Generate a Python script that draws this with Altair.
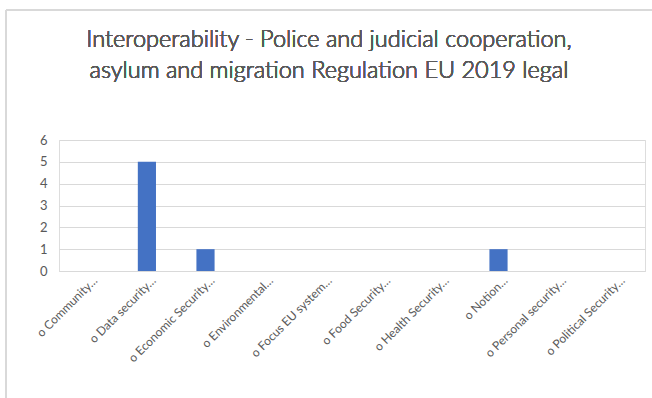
import altair as alt
import pandas as pd

categories = ["o Community…", "o Data security…", "o Economic Security…", "o Environmental…",
              "o Focus EU system…", "o Food Security…", "o Health Security…", "o Notion…",
              "o Personal security…", "o Political Security…"]
values = [0, 5, 1, 0, 0, 0, 0, 1, 0, 0]
y_ticks = [0, 1, 2, 3, 4, 5, 6]
title_lines = ["Interoperability - Police and judicial cooperation,",
               "asylum and migration Regulation EU 2019 legal"]

df = pd.DataFrame({"cat": categories, "val": values})
FONT = "Lato"
GREY = "#595959"

bars = alt.Chart(df).mark_bar(color="#4472C4").encode(
    x=alt.X("cat:N", sort=categories,
            scale=alt.Scale(paddingInner=0.69, paddingOuter=0.345),
            axis=alt.Axis(title=None, labelAngle=-45, labelAlign="right", labelBaseline="middle",
                          labelFont=FONT, labelFontSize=12, labelColor=GREY,
                          ticks=False, domainColor="#d9d9d9", labelPadding=7, labelOffset=7,
                          labelOverlap=False)),
    y=alt.Y("val:Q", scale=alt.Scale(domain=[0, 6], nice=False),
            axis=alt.Axis(title=None, values=y_ticks, domain=False, ticks=False,
                          gridColor="#d9d9d9", labelFont=FONT, labelFontSize=13,
                          labelColor=GREY, labelPadding=12)),
)

top_border = alt.Chart(df).mark_rule(color="#d9d9d9", strokeWidth=1.5).encode(
    x=alt.value(-53), x2=alt.value(600), y=alt.value(-130))
left_border = alt.Chart(df).mark_rule(color="#d9d9d9", strokeWidth=1.5).encode(
    x=alt.value(-53), y=alt.value(-130), y2=alt.value(260))

title = alt.Chart(df).mark_text(
    text=title_lines, font=FONT, fontSize=23.5, fontWeight=300, color=GREY,
    lineHeight=31, align="center", baseline="alphabetic",
).encode(x=alt.value(270), y=alt.value(-93))

chart = alt.layer(top_border, left_border, title, bars).properties(
    width=586, height=131,
    autosize=alt.AutoSizeParams(type="none"),
    padding={"left": 59, "top": 140, "right": 7, "bottom": 127},
).configure_view(stroke=None).configure(background="white")

chart.save("out.html", embed_options={"renderer": "svg", "actions": False})
